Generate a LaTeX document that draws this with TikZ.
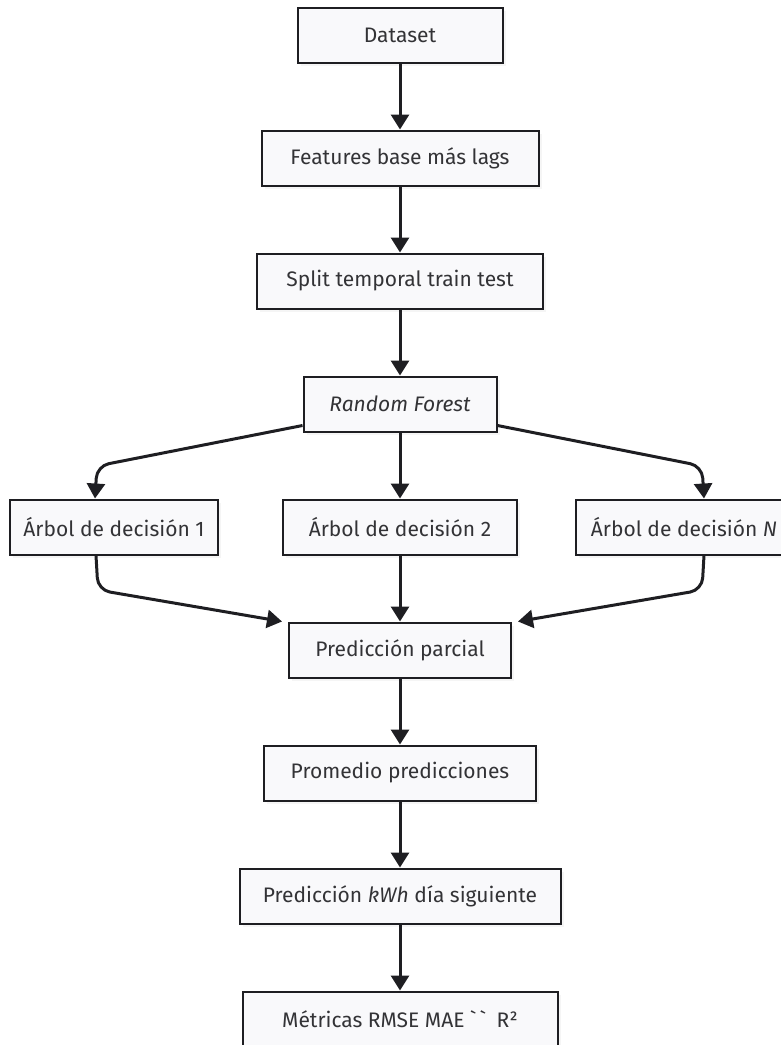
\documentclass[tikz,border=0pt]{standalone}
\usepackage{fontspec}
\setmainfont{Fira Sans}
\newfontfamily\gravefont{Fira Sans}
\usepackage{tikz}
\usetikzlibrary{arrows.meta,positioning,shadows}

\definecolor{boxfill}{HTML}{F9F9FB}
\definecolor{boxline}{HTML}{1E1E22}
\definecolor{boxtext}{HTML}{333336}

\begin{document}
\begin{tikzpicture}[x=1pt,y=-1pt,node distance=66pt,
    box/.style={draw=boxline,line width=2pt,fill=boxfill,text=boxtext,
      minimum height=55pt,inner xsep=2pt,font=\fontsize{21}{25}\selectfont,
      drop shadow={opacity=0.08,shadow xshift=3pt,shadow yshift=-3pt}},
    flow/.style={-{Triangle[width=18pt,length=15pt]},line width=3pt,draw=boxline},
    curve/.style={flow,rounded corners=12pt}]
  \useasboundingbox (0,0) rectangle (780,1045);

  \node[box,minimum width=205pt] (data) at (400,35) {Dataset};
  \node[box,minimum width=277pt] (feat) [below=of data] {Features base más lags};
  \node[box,minimum width=286pt] (split) [below=of feat] {Split temporal train test};
  \node[box,minimum width=193pt] (rf) [below=of split] {\itshape Random Forest};
  \node[box,minimum width=234pt] (t2) [below=of rf] {Árbol de decisión 2};
  \node[box,minimum width=208pt] (t1) [left=63pt of t2] {Árbol de decisión 1};
  \node[box,minimum width=216pt] (tn) [right=57pt of t2] {Árbol de decisión \textit{N}};
  \node[box,minimum width=222pt] (pp) [below=of t2] {Predicción parcial};
  \node[box,minimum width=272pt] (prom) [below=of pp] {Promedio predicciones};
  \node[box,minimum width=321pt] (kwh) [below=of prom] {Predicción \textit{kWh} día siguiente};
  \node[box,minimum width=315pt] (met) [below=of kwh] {Métricas RMSE MAE {\gravefont`\,`}\enspace R²};

  \coordinate (c1) at (97,466);
  \coordinate (cn) at (702,466);
  \coordinate (d1) at (98,590);
  \coordinate (dn) at (702,590);

  \draw[flow] (data) -- (feat);
  \draw[flow] (feat) -- (split);
  \draw[flow] (split) -- (rf);
  \draw[flow] (rf) -- (t2);
  \draw[curve] ([yshift=7pt]rf.south west) -- (c1) -- ([xshift=-19pt]t1.north);
  \draw[curve] ([yshift=7pt]rf.south east) -- (cn) -- ([xshift=20pt]tn.north);
  \draw[flow] (t2) -- (pp);
  \draw[curve] ([xshift=-18pt]t1.south) -- (d1) -- ([xshift=-6pt]pp.north west);
  \draw[curve] ([xshift=20pt]tn.south) -- (dn) -- ([xshift=6pt]pp.north east);
  \draw[flow] (pp) -- (prom);
  \draw[flow] (prom) -- (kwh);
  \draw[flow] (kwh) -- (met);
\end{tikzpicture}
\end{document}
